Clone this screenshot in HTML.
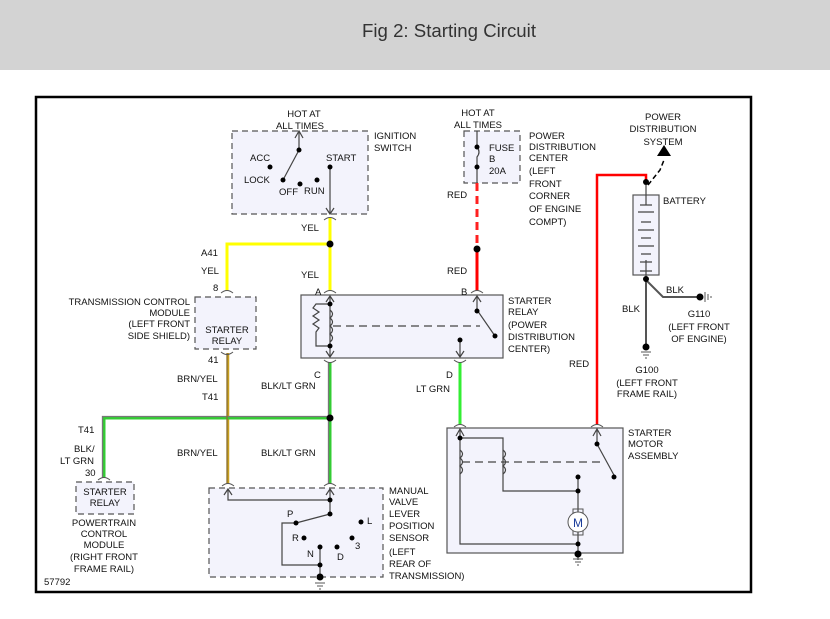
<!DOCTYPE html>
<html><head><meta charset="utf-8"><style>
body{margin:0;width:830px;height:619px;background:#fff;overflow:hidden}
svg{display:block}
text{font-family:"Liberation Sans",sans-serif;font-size:9.5px;fill:#111}
</style></head><body>
<svg width="830" height="619" viewBox="0 0 830 619">
<rect x="0" y="0" width="830" height="70" fill="#d3d3d3"/>
<text x="449" y="37" text-anchor="middle" style="font-size:18px;fill:#333" textLength="174" lengthAdjust="spacingAndGlyphs">Fig 2: Starting Circuit</text>
<rect x="36" y="97" width="715" height="495" fill="#fff" stroke="#000" stroke-width="2.5"/>

<g fill="#f3f3fc" stroke="#555" stroke-width="1.2">
<rect x="232" y="131" width="136" height="83" stroke-dasharray="6,4"/>
<rect x="464" y="131" width="56" height="52" stroke-dasharray="6,4"/>
<rect x="301" y="295" width="202" height="63"/>
<rect x="195" y="297" width="61" height="52" stroke-dasharray="6,4"/>
<rect x="76" y="482" width="58" height="32" stroke-dasharray="6,4"/>
<rect x="209" y="488" width="174" height="89" stroke-dasharray="6,4"/>
<rect x="447" y="428" width="176" height="125"/>
<rect x="633" y="195" width="26" height="80"/>
</g>

<!-- wires -->
<g fill="none" stroke-width="3">
<path d="M330 218V291M330 244H227V291" stroke="#ffff00"/>
<path d="M477 183V248" stroke="#ff2020" stroke-dasharray="8,5"/>
<path d="M477 249V291" stroke="#ff0000"/>
<path d="M597 425V175H646V183" stroke="#ff0000" stroke-width="2.5"/>
<path d="M228 353V484" stroke="#c8a020" stroke-width="2.5"/>
<path d="M330 362V484M330 418H104V478" stroke="#33cc33"/>
<path d="M460 362V424" stroke="#33ee33"/>
</g>
<g fill="none" stroke="#777" stroke-width="1.3">
<path d="M328.5 362V484M330 416.5H102.5V478"/>
<path d="M227 353V484" stroke="#8a7030"/>
</g>
<g fill="none" stroke="#555" stroke-width="2">
<path d="M646 278V345M646 280L663 297H698"/>
</g>
<path d="M648 185L660 170L664 160" stroke="#000" stroke-width="1.5" stroke-dasharray="5,3" fill="none"/>
<path d="M657 156L664 145L671 156Z" fill="#000"/>

<!-- connectors -->
<g fill="none" stroke="#555" stroke-width="1">
<path d="M324 220q6-5 12 0M221 293q6-5 12 0M324 293q6-5 12 0M471 293q6-5 12 0M221 352q6 5 12 0M324 360q6 5 12 0M454 360q6 5 12 0M454 427q6-5 12 0M591 427q6-5 12 0M98 480q6-5 12 0M222 486q6-5 12 0M324 486q6-5 12 0"/>
</g>

<g stroke="#444" stroke-width="1.2" fill="none">
<path d="M299 131V150L283 180M330 167V213M326 208L330 214L334 208M295 138L299 131L303 138"/>
<path d="M477 131V147q4 5 0 10V183"/>
<path d="M330 297V350M326 302L330 296L334 302M330 304H316l-3 4 6 4-6 4 6 4-6 4 6 4-3 4V346H330M330 310q5 4 0 8q5 4 0 8q5 4 0 8q5 4 0 8"/>
<path d="M333 326H480" stroke-dasharray="8,5"/>
<path d="M477 297V310L495 336M473 302L477 296L481 302M460 340V356M456 351L460 357L464 351M330 350V357M326 351L330 357L334 351"/>
<path d="M228 490V500H330M330 490V514L296 523M224 495L228 489L232 495M326 495L330 489L334 495M296 523H282V565H320M320 547V577"/>
<path d="M460 430V544H578M456 436L460 429L464 436M460 438H503V491H578M578 477V512M578 532V554M597 430V444L615 477M593 436L597 429L601 436M578 554V560"/>
<path d="M460 450q5 4 0 8q5 4 0 8q5 4 0 8M503 450q5 4 0 8q5 4 0 8q5 4 0 8"/>
<path d="M462 462H600" stroke-dasharray="8,5"/>
<path d="M646 185V205M646 260V278M638 212h16M641 222h10M638 230h16M641 238h10M638 246h16M641 254h10M640 205h12M640 262h12M640 271h12"/>
</g>
<g fill="none" stroke="#555" stroke-width="1">
<rect x="573" y="509" width="10" height="5"/><rect x="573" y="530" width="10" height="5"/>
</g>
<circle cx="578" cy="522" r="10" fill="#fff" stroke="#555"/>
<text x="578" y="527" text-anchor="middle" style="font-size:12px;fill:#1a3c9a">M</text>

<g fill="#000">
<circle cx="330" cy="244" r="3.5"/><circle cx="477" cy="249" r="3.5"/><circle cx="330" cy="418" r="3.5"/>
<circle cx="299" cy="150" r="2.5"/><circle cx="283" cy="180" r="2.5"/><circle cx="270" cy="167" r="2.5"/><circle cx="300" cy="184" r="2.5"/><circle cx="317" cy="180" r="2.5"/><circle cx="330" cy="167" r="2.5"/>
<circle cx="477" cy="147" r="2.5"/><circle cx="477" cy="167" r="2.5"/>
<circle cx="330" cy="304" r="2.5"/><circle cx="330" cy="346" r="2.5"/><circle cx="477" cy="311" r="2.5"/><circle cx="495" cy="336" r="2.5"/><circle cx="460" cy="340" r="2.5"/>
<circle cx="330" cy="500" r="2.5"/><circle cx="330" cy="514" r="2.5"/><circle cx="296" cy="523" r="2.5"/><circle cx="304" cy="538" r="2.5"/><circle cx="361" cy="522" r="2.5"/><circle cx="352" cy="538" r="2.5"/><circle cx="320" cy="547" r="2.5"/><circle cx="337" cy="547" r="2.5"/><circle cx="320" cy="565" r="2.5"/><circle cx="320" cy="577" r="3.5"/>
<circle cx="460" cy="438" r="2.5"/><circle cx="597" cy="444" r="2.5"/><circle cx="614" cy="477" r="2.5"/><circle cx="578" cy="477" r="2.5"/><circle cx="578" cy="491" r="2.5"/><circle cx="578" cy="544" r="2.5"/><circle cx="578" cy="554" r="3.5"/>
<circle cx="646" cy="182" r="3"/><circle cx="646" cy="279" r="3"/><circle cx="646" cy="347" r="3.5"/><circle cx="700" cy="297" r="3.5"/>
</g>
<g stroke="#555" stroke-width="1">
<path d="M315 583h10M317 586h6M319 589h2M573 559h10M575 562h6M577 565h2M641 352h10M643 355h6M645 358h2M705 292v10M708 294v6M711 296v2"/>
</g>

<text x="304" y="117" text-anchor="middle">HOT AT</text><text x="300" y="129" text-anchor="middle">ALL TIMES</text>
<text x="374" y="139">IGNITION</text><text x="374" y="151">SWITCH</text>
<text x="250" y="161">ACC</text><text x="244" y="183">LOCK</text><text x="279" y="195">OFF</text><text x="304" y="194">RUN</text><text x="326" y="161">START</text>
<text x="478" y="116" text-anchor="middle">HOT AT</text><text x="478" y="128" text-anchor="middle">ALL TIMES</text>
<text x="489" y="151">FUSE</text><text x="489" y="162">B</text><text x="489" y="174">20A</text>
<text x="529" y="139">POWER</text><text x="529" y="150">DISTRIBUTION</text><text x="529" y="161">CENTER</text><text x="529" y="174">(LEFT</text><text x="529" y="187">FRONT</text><text x="529" y="199">CORNER</text><text x="529" y="212">OF ENGINE</text><text x="529" y="225">COMPT)</text>
<text x="447" y="198">RED</text><text x="447" y="274">RED</text>
<text x="301" y="231">YEL</text><text x="301" y="278">YEL</text>
<text x="201" y="256">A41</text><text x="201" y="274">YEL</text><text x="213" y="291">8</text>
<text x="315" y="295">A</text><text x="461" y="295">B</text>
<text x="190" y="305" text-anchor="end">TRANSMISSION CONTROL</text><text x="190" y="316" text-anchor="end">MODULE</text><text x="190" y="327" text-anchor="end">(LEFT FRONT</text><text x="190" y="339" text-anchor="end">SIDE SHIELD)</text>
<text x="227" y="333" text-anchor="middle">STARTER</text><text x="227" y="344" text-anchor="middle">RELAY</text>
<text x="508" y="304">STARTER</text><text x="508" y="315">RELAY</text><text x="508" y="328">(POWER</text><text x="508" y="340">DISTRIBUTION</text><text x="508" y="352">CENTER)</text>
<text x="208" y="363">41</text><text x="177" y="382">BRN/YEL</text><text x="202" y="400">T41</text>
<text x="314" y="378">C</text><text x="261" y="389">BLK/LT GRN</text>
<text x="446" y="378">D</text><text x="416" y="392">LT GRN</text>
<text x="569" y="367">RED</text>
<text x="663" y="120" text-anchor="middle">POWER</text><text x="663" y="132" text-anchor="middle">DISTRIBUTION</text><text x="663" y="145" text-anchor="middle">SYSTEM</text>
<text x="663" y="204">BATTERY</text>
<text x="666" y="293">BLK</text><text x="622" y="312">BLK</text>
<text x="699" y="317" text-anchor="middle">G110</text><text x="699" y="330" text-anchor="middle">(LEFT FRONT</text><text x="699" y="342" text-anchor="middle">OF ENGINE)</text>
<text x="647" y="373" text-anchor="middle">G100</text><text x="647" y="386" text-anchor="middle">(LEFT FRONT</text><text x="647" y="397" text-anchor="middle">FRAME RAIL)</text>
<text x="78" y="433">T41</text><text x="74" y="452">BLK/</text><text x="60" y="464">LT GRN</text><text x="85" y="476">30</text>
<text x="177" y="456">BRN/YEL</text><text x="261" y="456">BLK/LT GRN</text>
<text x="105" y="495" text-anchor="middle">STARTER</text><text x="105" y="506" text-anchor="middle">RELAY</text>
<text x="104" y="526" text-anchor="middle">POWERTRAIN</text><text x="104" y="537" text-anchor="middle">CONTROL</text><text x="104" y="548" text-anchor="middle">MODULE</text><text x="104" y="560" text-anchor="middle">(RIGHT FRONT</text><text x="104" y="572" text-anchor="middle">FRAME RAIL)</text>
<text x="44" y="585">57792</text>
<text x="389" y="494">MANUAL</text><text x="389" y="505">VALVE</text><text x="389" y="517">LEVER</text><text x="389" y="529">POSITION</text><text x="389" y="541">SENSOR</text><text x="389" y="555">(LEFT</text><text x="389" y="567">REAR OF</text><text x="389" y="579">TRANSMISSION)</text>
<text x="287" y="517">P</text><text x="292" y="541">R</text><text x="307" y="557">N</text><text x="337" y="560">D</text><text x="355" y="549">3</text><text x="367" y="524">L</text>
<text x="628" y="436">STARTER</text><text x="628" y="447">MOTOR</text><text x="628" y="459">ASSEMBLY</text>
</svg>
</body></html>
